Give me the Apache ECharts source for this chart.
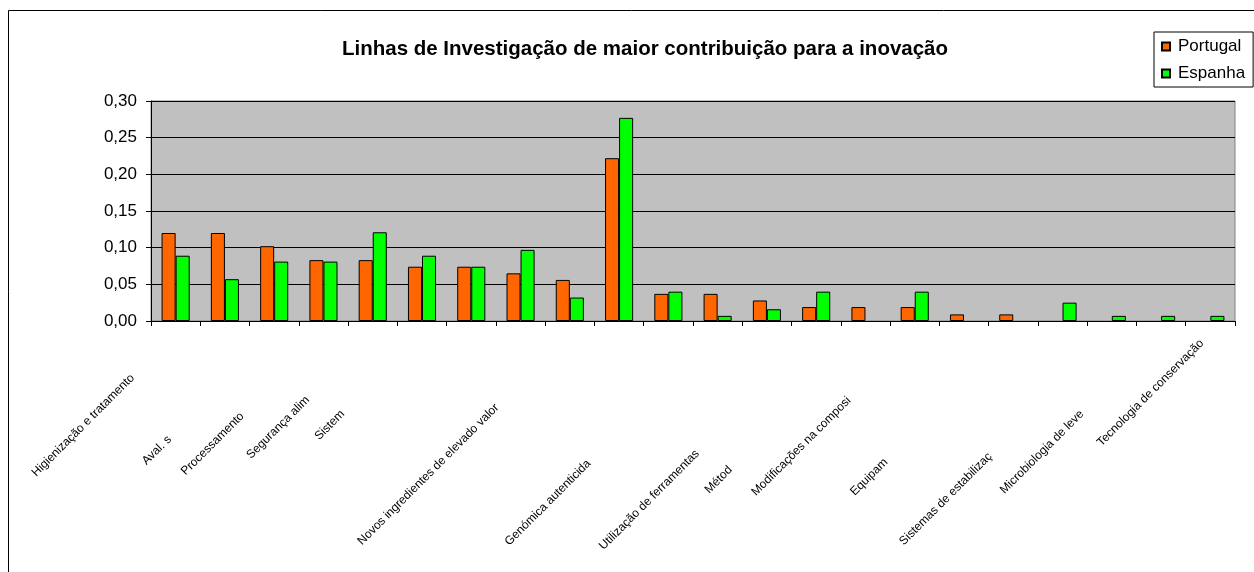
<!DOCTYPE html>
<html>
<head>
<meta charset="utf-8">
<script src="https://cdn.jsdelivr.net/npm/echarts@6/dist/echarts.min.js"></script>
<style>
html,body{margin:0;padding:0;background:#fff;}
#chart{width:1254px;height:572px;}
</style>
</head>
<body>
<div id="chart"></div>
<script>
// categorias (rótulos visíveis no eixo, os vazios não aparecem)
var categorias = [
	'Higienização e tratamento', '', 'Aval. s', 'Processamento', 'Segurança alim',
	'Sistem', '', '', 'Novos ingredientes de elevado valor', '',
	'', 'Genómica autenticida', '', 'Utilização de ferramentas', 'Métod',
	'Modificações na composi', '', 'Equipam', '', 'Sistemas de estabilizaç',
	'Microbiologia de leve', 'Tecnologia de conservação'
];

var portugal = [0.120, 0.120, 0.102, 0.083, 0.083, 0.074, 0.074, 0.065, 0.056, 0.222,
	0.037, 0.037, 0.028, 0.019, 0.019, 0.019, 0.009, 0.009, null, null, null, null];
var espanha = [0.089, 0.057, 0.081, 0.081, 0.121, 0.089, 0.074, 0.097, 0.032, 0.277,
	0.040, 0.007, 0.016, 0.040, null, 0.040, null, null, 0.025, 0.007, 0.007, 0.007];

var yTicks = [0, 0.05, 0.10, 0.15, 0.20, 0.25, 0.30];

// deslocamento dos rótulos ao longo da diagonal (estilo)
var labelPad = [61, 0, 148, 115, 92, 112, 0, 0, 103, 0, 0, 182, 0, 168, 191, 93, 0, 180, 0, 172, 112, 12];

var xData = categorias.map(function (c, i) {
	return { value: c, textStyle: { padding: [0, labelPad[i], 0, 0] } };
});

var myChart = echarts.init(document.getElementById('chart'));

var option = {
	animation: false,
	backgroundColor: '#fff',
	title: {
		text: 'Linhas de Investigação de maior contribuição para a inovação',
		left: 640,
		top: 34,
		textAlign: 'center',
		textStyle: { fontFamily: 'Arial, Liberation Sans', fontSize: 20.5, fontWeight: 'bold', color: '#000' }
	},
	legend: {
		orient: 'vertical',
		left: 1154,
		top: 32,
		padding: [6, 8, 5, 7],
		itemGap: 10,
		itemWidth: 8,
		itemHeight: 8,
		icon: 'rect',
		backgroundColor: '#fff',
		borderColor: '#000',
		borderWidth: 1,
		textStyle: { fontFamily: 'Arial, Liberation Sans', fontSize: 17, color: '#000', padding: [0, 0, 0, 3] },
		data: ['Portugal', 'Espanha']
	},
	graphic: [{
		type: 'rect',
		shape: { x: 8.5, y: 10.5, width: 1260, height: 700 },
		style: { fill: 'none', stroke: '#000', lineWidth: 1 },
		silent: true
	}],
	grid: {
		left: 151,
		right: 19,
		top: 101,
		bottom: 251,
		show: true,
		backgroundColor: '#C0C0C0',
		borderColor: '#808080',
		borderWidth: 1
	},
	xAxis: {
		type: 'category',
		data: xData,
		axisLine: { lineStyle: { color: '#000', width: 1 } },
		axisTick: { show: true, length: 5, lineStyle: { color: '#000' } },
		axisLabel: {
			interval: 0,
			rotate: 45,
			margin: 12,
			fontFamily: 'Arial, Liberation Sans',
			fontSize: 12,
			color: '#000'
		}
	},
	yAxis: {
		type: 'value',
		min: yTicks[0],
		max: yTicks[yTicks.length - 1],
		interval: 0.05,
		axisLine: { show: true, lineStyle: { color: '#000' } },
		axisTick: { show: true, length: 5, lineStyle: { color: '#000' } },
		splitLine: { show: true, lineStyle: { color: '#000', width: 1 } },
		axisLabel: {
			margin: 14,
			fontFamily: 'Arial, Liberation Sans',
			fontSize: 17,
			color: '#000',
			formatter: function (v) { return v.toFixed(2).replace('.', ','); }
		}
	},
	series: [
		{
			name: 'Portugal',
			type: 'bar',
			data: portugal,
			barGap: '0%',
			barCategoryGap: '43%',
			itemStyle: { color: '#FF6600', borderColor: '#000', borderWidth: 1 }
		},
		{
			name: 'Espanha',
			type: 'bar',
			data: espanha,
			barGap: '0%',
			barCategoryGap: '43%',
			itemStyle: { color: '#00FF00', borderColor: '#000', borderWidth: 1 }
		}
	]
};
myChart.setOption(option);
</script>
</body>
</html>
